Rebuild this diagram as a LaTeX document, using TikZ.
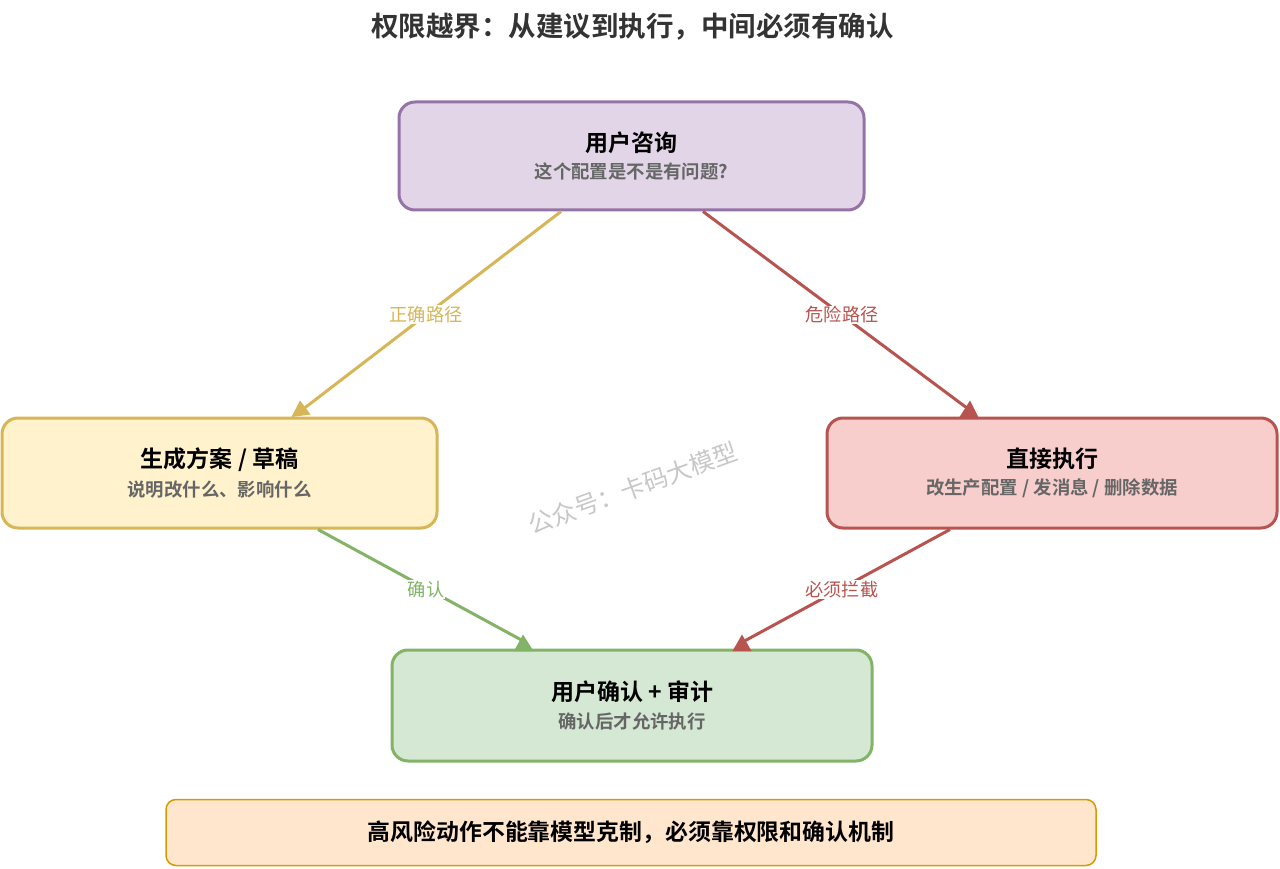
\documentclass[tikz,border=0pt]{standalone}
\usepackage{fontspec}
\setmainfont{Noto Sans CJK SC}
\newfontfamily\cjkbold{Noto Sans CJK SC Bold}
\usetikzlibrary{calc}
\definecolor{pfill}{HTML}{E1D5E7}\definecolor{pline}{HTML}{9673A6}
\definecolor{yfill}{HTML}{FFF2CC}\definecolor{yline}{HTML}{D6B656}
\definecolor{rfill}{HTML}{F8CECC}\definecolor{rline}{HTML}{B85450}
\definecolor{gfill}{HTML}{D5E8D4}\definecolor{gline}{HTML}{82B366}
\definecolor{ofill}{HTML}{FFE6CC}\definecolor{oline}{HTML}{D79B00}
\newcommand{\boxtext}[2]{{\fontsize{23}{28}\selectfont\cjkbold\textcolor{black}{#1}}\\[8.5pt]{\fontsize{18.4}{28}\selectfont\cjkbold\textcolor[HTML]{666666}{#2}}}
\tikzset{
  x=1pt,y=-1pt,
  flowbox/.style={draw=#1,line width=3pt,rounded corners=16pt,align=center,inner sep=0pt,anchor=center},
  edge/.style={line width=3pt,draw=#1},
  tiptri/.style={fill=#1,draw=none},
  lbl/.style={fill=white,inner sep=1pt,text=#1,font=\fontsize{18.2}{20}\selectfont},
}
\begin{document}
\begin{tikzpicture}
\useasboundingbox (0,0) rectangle (1280,869);
\node[font=\fontsize{27.5}{30}\selectfont\cjkbold,text=black!80] (title) at (632.5,27) {权限越界^^^^ff1a从建议到执行^^^^ff0c中间必须有确认};
\node[flowbox=pline,fill=pfill,minimum width=465pt,minimum height=108pt] (user) at (631.5,156) {\boxtext{用户咨询}{这个配置是不是有问题?}};
\node[flowbox=yline,fill=yfill,minimum width=435pt,minimum height=110pt] (draft) at (219.5,473) {\boxtext{生成方案 / 草稿}{说明改什么、影响什么}};
\node[flowbox=rline,fill=rfill,minimum width=450pt,minimum height=110pt] (exec) at (1052,473) {\boxtext{直接执行}{改生产配置 / 发消息 / 删除数据}};
\node[flowbox=gline,fill=gfill,minimum width=480pt,minimum height=111pt] (audit) at (632,705.5) {\boxtext{用户确认 + 审计}{确认后才允许执行}};
\node[draw=oline,fill=ofill,line width=1.5pt,rounded corners=10pt,minimum width=930pt,minimum height=66pt,inner sep=0pt,font=\fontsize{22.9}{26}\selectfont\cjkbold] (note) at (631,832.5) {\raisebox{-1.5pt}{高风险动作不能靠模型克制^^^^ff0c必须靠权限和确认机制}};
\node[rotate=20,text=black!22,font=\fontsize{24.5}{28}\selectfont] (mark) at (633,488) {公众号^^^^ff1a卡码大模型};
% connector ends
\coordinate (ua) at ($(user.south)+(-70.5,0)$);
\coordinate (ub) at ($(user.south)+(71.5,0)$);
\coordinate (da) at ($(draft.north)+(80.5,-5)$);
\coordinate (ea) at ($(exec.north)+(-79,-4)$);
\coordinate (db) at ($(draft.south)+(98.5,0)$);
\coordinate (eb) at ($(exec.south)+(-102,0)$);
\coordinate (ga) at ($(audit.north)+(-106,-6)$);
\coordinate (gb) at ($(audit.north)+(106,-4)$);
\draw[edge=yline] (ua) -- (da) node[pos=.517,lbl=yline] (l1) {正确路径};
\draw[edge=rline] (ub) -- (ea) node[pos=.515,lbl=rline] (l2) {危险路径};
\draw[edge=gline] (db) -- (ga) node[pos=.52,lbl=gline,yshift=-1.5pt] (l3) {确认};
\draw[edge=rline] (eb) -- (gb) node[pos=.51,lbl=rline,yshift=-1.5pt] (l4) {必须拦截};
\fill[tiptri=yline] (300,400.5) -- (291.5,417) -- (310.5,414.5) -- cycle;
\fill[tiptri=rline] (970,400.5) -- (959.5,417) -- (978.5,417.5) -- cycle;
\fill[tiptri=gline] (523,634.5) -- (514,651) -- (533.5,651) -- cycle;
\fill[tiptri=rline] (742,634.5) -- (732.5,651) -- (751.5,651) -- cycle;
\end{tikzpicture}
\end{document}
